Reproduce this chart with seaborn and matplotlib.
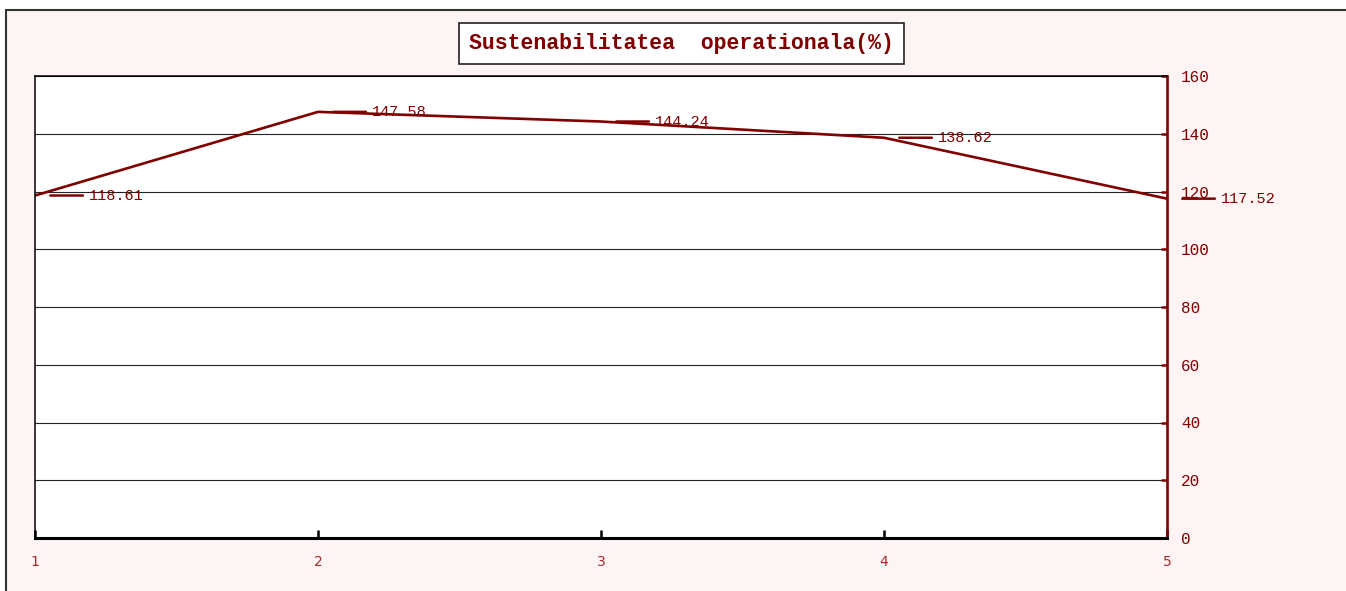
import matplotlib
matplotlib.use('Agg')
import matplotlib.pyplot as plt
from matplotlib.patches import Rectangle
import seaborn as sns
import pandas as pd

# chart data
periods = [1, 2, 3, 4, 5]
values = [118.61, 147.58, 144.24, 138.62, 117.52]
y_ticks = [0, 20, 40, 60, 80, 100, 120, 140, 160]
title = 'Sustenabilitatea  operationala(%)'

df = pd.DataFrame({'period': periods, 'value': values})

sns.set_style('white')
plt.rcParams['font.family'] = ['Liberation Mono', 'DejaVu Sans']

MAROON = '#800000'
W, H = 1346, 591
fig = plt.figure(figsize=(W / 100, H / 100), dpi=100, facecolor='white')

# outer chart area (pinkish, with grey border), kept behind the axes
fig.patches.append(Rectangle((6 / W, -0.05), 1.1, (H - 10) / H + 0.05,
                             transform=fig.transFigure, facecolor='#fff4f4',
                             edgecolor='#333333', linewidth=1.5, zorder=-5))

ax = fig.add_axes([35 / W, (H - 538) / H, (1167 - 35) / W, (538 - 76) / H])
ax.set_zorder(1)
ax.set_facecolor('white')

sns.lineplot(data=df, x='period', y='value', color=MAROON, linewidth=1.9, ax=ax)

ax.set_xlim(1, 5)
ax.set_ylim(0, 160)
ax.set_xticks(periods)
ax.set_yticks(y_ticks)
ax.set_xlabel('')
ax.set_ylabel('')

ax.grid(axis='y', color='#222222', linewidth=0.8)
ax.grid(axis='x', visible=False)
ax.set_axisbelow(True)

ax.yaxis.tick_right()
ax.tick_params(axis='y', direction='in', length=4.5, width=1.8, color=MAROON,
               labelcolor=MAROON, labelsize=11.5, pad=10, right=True, left=False)
ax.tick_params(axis='x', direction='in', length=6, width=1.8, color='black',
               labelcolor='#a52a2a', pad=12, bottom=True)
for lab in ax.get_xticklabels():
    lab.set_fontfamily('DejaVu Sans')
    lab.set_fontsize(10)

for side in ['left', 'top']:
    ax.spines[side].set_color('black')
    ax.spines[side].set_linewidth(1.1)
ax.spines['bottom'].set_color('black')
ax.spines['bottom'].set_linewidth(2.2)
ax.spines['right'].set_color(MAROON)
ax.spines['right'].set_linewidth(1.9)

# data labels with short leader lines
for x, v in zip(periods, values):
    ax.annotate(f'{v:.2f}', xy=(x, v), xytext=(54, 0), textcoords='offset pixels',
                ha='left', va='center', color=MAROON, fontsize=11,
                arrowprops=dict(arrowstyle='-', color=MAROON, lw=1.8,
                                shrinkA=2, shrinkB=11),
                annotation_clip=False)

fig.text(681.5 / W, 1 - 43.5 / H, title, ha='center', va='center',
         color=MAROON, fontsize=15.5, fontweight='bold', zorder=5,
         bbox=dict(boxstyle='square,pad=0.45', facecolor='white',
                   edgecolor='#222222', linewidth=1.2))

fig.savefig('out.png', dpi=100, facecolor=fig.get_facecolor())
